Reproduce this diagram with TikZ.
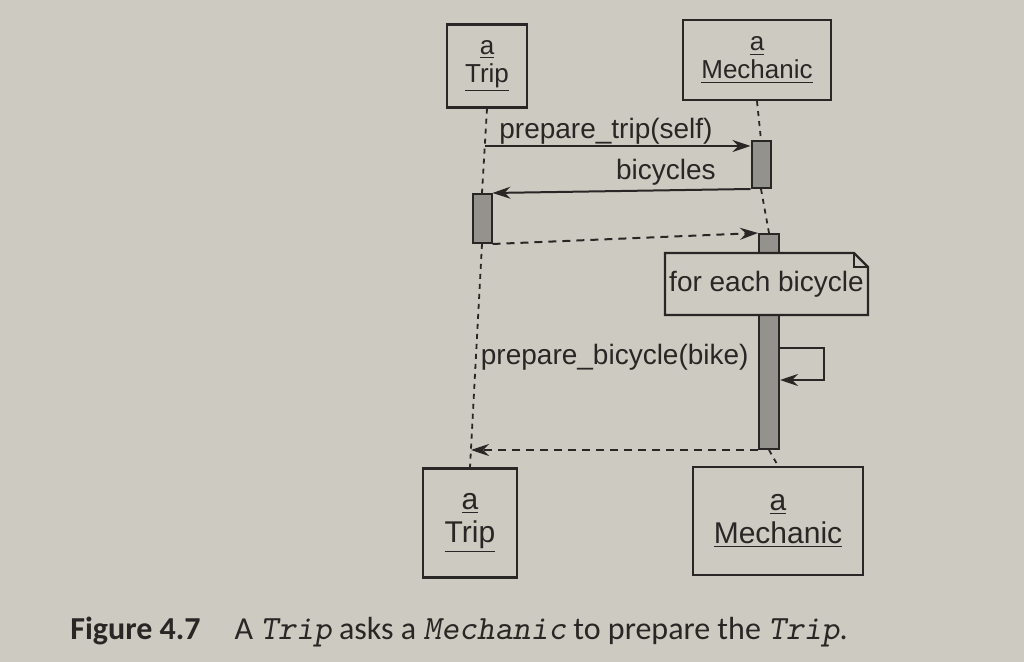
\documentclass[tikz,border=0pt]{standalone}
\usepackage{fontspec}
\setmainfont{Liberation Sans}
\newfontfamily\capfont{Carlito}
\usetikzlibrary{arrows.meta,positioning,calc}

\definecolor{paper}{RGB}{205,202,193}
\definecolor{ink}{RGB}{40,39,37}
\definecolor{actgray}{RGB}{148,146,140}

\newcommand{\capcode}[1]{{\ttfamily\slshape\fontsize{17}{18}\selectfont #1}}

\begin{document}
\begin{tikzpicture}[
    x=0.5pt, y=-0.5pt,
    obj/.style={draw=ink, line width=1.2pt, align=center, text=ink, inner sep=0pt},
    act/.style={draw=ink, line width=1pt, fill=actgray, minimum width=9.5pt, inner sep=0pt},
    msg/.style={draw=ink, line width=1pt, -{Stealth[length=9pt,width=6pt,inset=3pt]}},
    ret/.style={msg, dash pattern=on 4pt off 3pt},
    life/.style={draw=ink, line width=0.9pt, dash pattern=on 2.5pt off 2.5pt},
    lbl/.style={text=ink, font=\fontsize{14}{16}\selectfont, inner sep=1pt}
]
\fill[paper] (0,0) rectangle (1024,662);
\useasboundingbox (0,0) rectangle (1024,662);

% objects, top and bottom
\node[obj, minimum width=40pt, minimum height=41.5pt, font=\fontsize{13}{14}\selectfont] (tripTop) at (487,66) {\underline{a}\\\underline{Trip}};
\node[obj, minimum width=74pt, minimum height=40pt, font=\fontsize{13}{14}\selectfont] (mechTop) at (757,60) {\underline{a}\\\underline{Mechanic}};
\node[obj, minimum width=47pt, minimum height=54.5pt, font=\fontsize{15}{16.5}\selectfont] (tripBot) at (470,523) {\underline{a}\\\underline{Trip}};
\node[obj, minimum width=85pt, minimum height=54pt, font=\fontsize{15}{16.5}\selectfont] (mechBot) at (778,521) {\underline{a}\\\underline{Mechanic}};

% activations
\node[act, minimum height=23.5pt] (mechAct1) at (761,164.5) {};
\node[act, minimum height=24.5pt] (tripAct) at (482,218.5) {};
\node[act, minimum width=10pt, minimum height=107.5pt] (mechAct2) at (769,341.5) {};

% lifelines
\draw[life] (tripTop.south) -- (tripAct.north);
\draw[life] (tripAct.south) -- (tripBot.north);
\draw[life] (mechTop.south) -- (mechAct1.north);
\draw[life] (mechAct1.south) -- (mechAct2.north);
\draw[life] (mechAct2.south) -- (mechBot.north);

% note
\coordinate (noteNW) at (665,253);
\coordinate (noteNE) at (868,253);
\coordinate (noteSE) at (868,315);
\coordinate (noteSW) at (665,315);
\filldraw[fill=paper, draw=ink, line width=1.1pt] (noteNW) -- ($(noteNE)+(-14,0)$) -- ($(noteNE)+(0,14)$) -- (noteSE) -- (noteSW) -- cycle;
\draw[ink, line width=0.7pt] ($(noteNE)+(-14,0)$) -- ($(noteNE)+(-14,14)$) -- ($(noteNE)+(0,14)$);
\node[lbl] (note) at ($(noteNW)!0.5!(noteSE)$) {for each bicycle};

% messages
\coordinate (tripCall) at (485,146);
\draw[msg] (tripCall) -- (tripCall -| mechAct1.west);
\node[lbl, anchor=base west] (lblTrip) at (497,139) {prepare\_trip(self)};

\draw[msg] (mechAct1.south west) -- (tripAct.north east);
\node[lbl, anchor=base east] (lblBikes) at (718,180) {bicycles};

\draw[ret] (tripAct.south east) -- (mechAct2.north west);

\draw[msg] ($(mechAct2.east)+(0,6.5)$) -- ++(44,0) -- ++(0,32) -- ($(mechAct2.east)+(0,38.5)$);
\node[lbl, anchor=east] (lblPrep) at (751,357) {prepare\_bicycle(bike)};

\coordinate (tripBack) at (471,450);
\draw[ret] (mechAct2.south west) -- (tripBack);

% caption
\node[anchor=base west, text=ink, inner sep=0pt, font=\capfont\fontsize{16}{18}\selectfont] (caption) at (70,640)
  {\textbf{Figure 4.7}\hspace{17pt}A \capcode{Trip} asks a \capcode{Mechanic} to prepare the \capcode{Trip}.};
\end{tikzpicture}
\end{document}
